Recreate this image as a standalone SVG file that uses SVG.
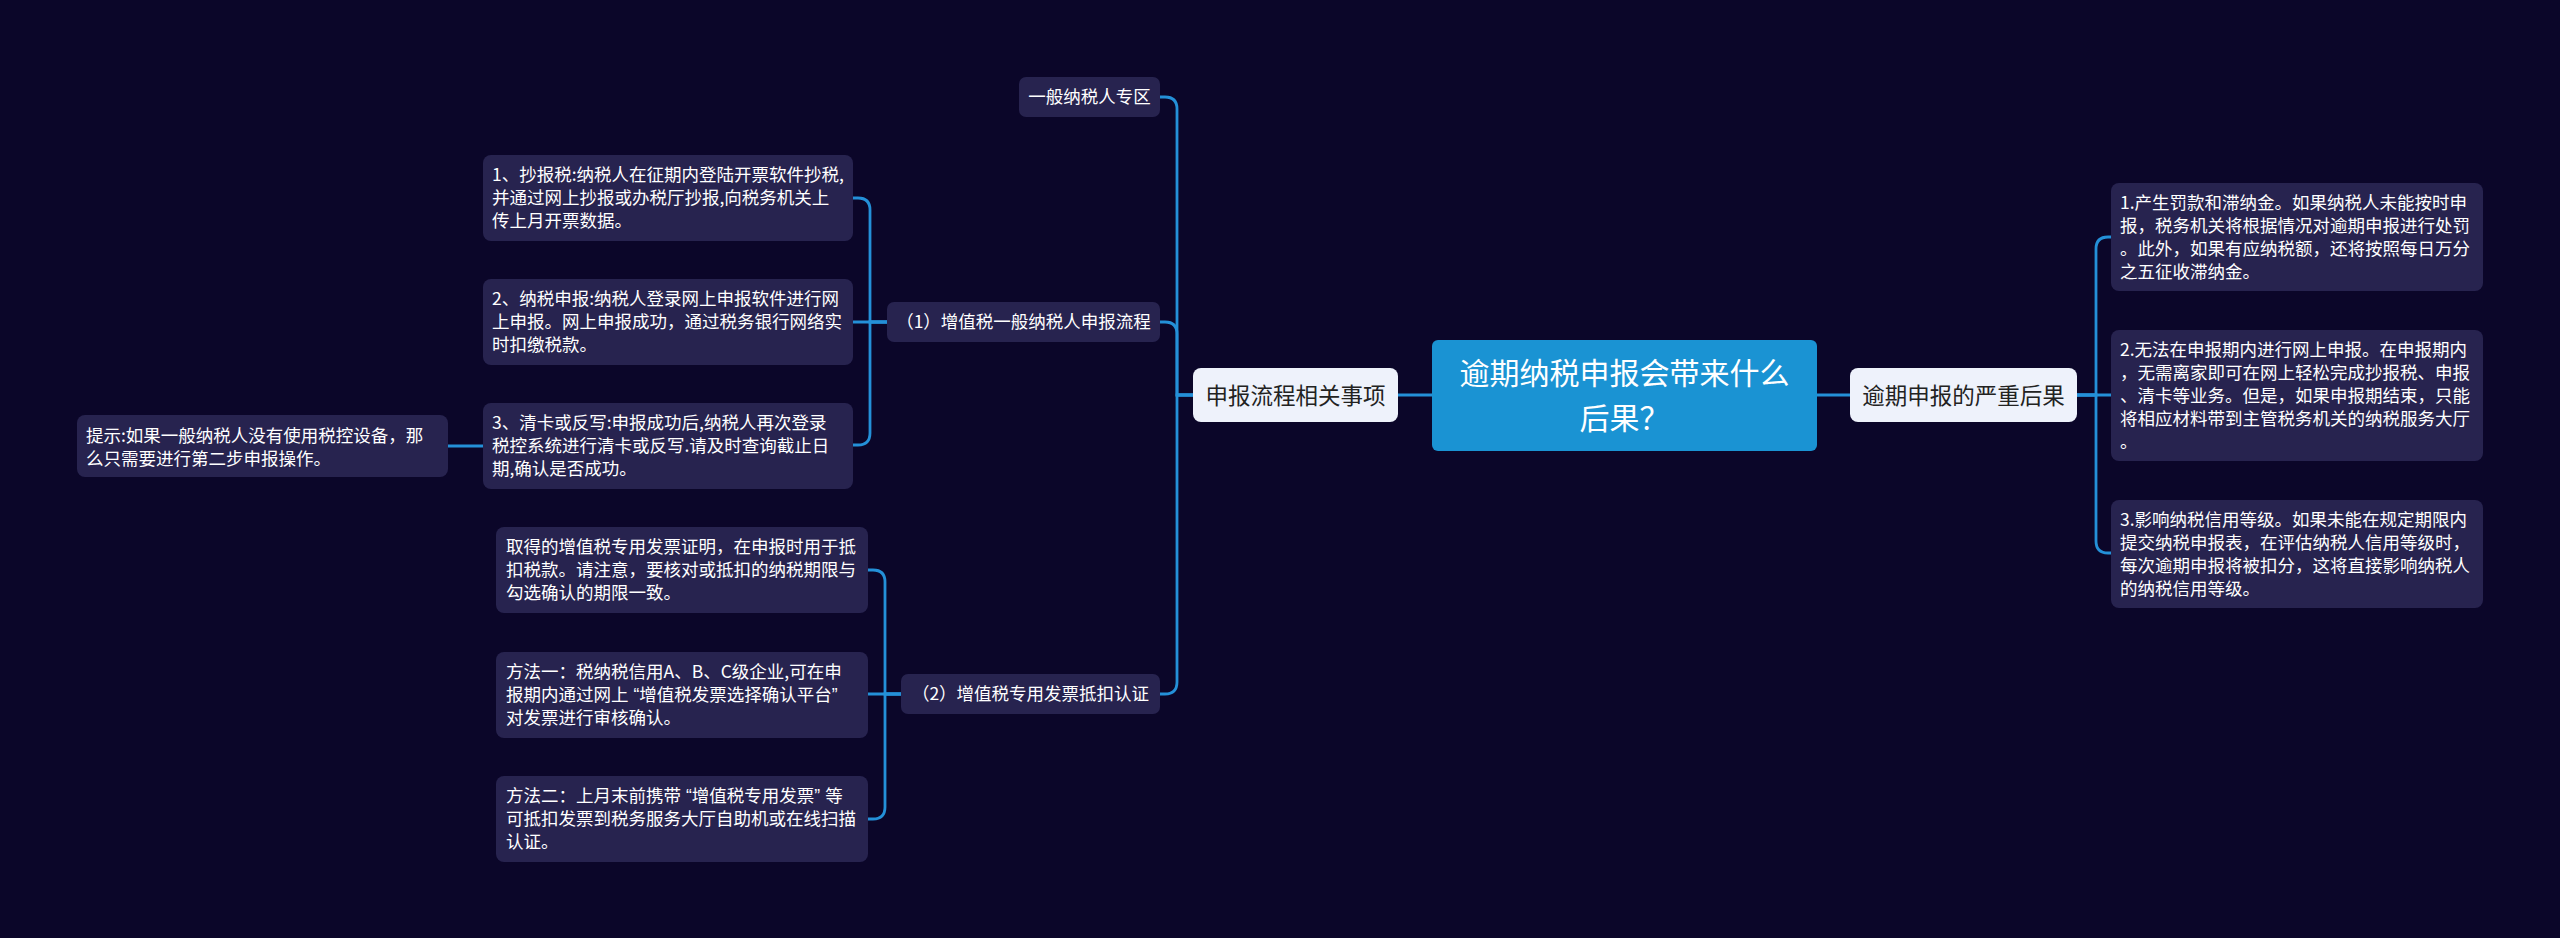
<svg xmlns="http://www.w3.org/2000/svg" width="2560" height="938" viewBox="0 0 2560 938">
<style>
.bg{fill:#0b0629}
.leaf{fill:#27234f}
.branch{fill:#eef2fb}
.root{fill:#1a93d3}
.t{font-family:"Noto Sans CJK SC","Noto Sans",sans-serif;font-size:17.5px;fill:#ffffff}
.tb{font-family:"Noto Sans CJK SC","Noto Sans",sans-serif;font-size:22.5px;fill:#222222}
.tr{font-family:"Noto Sans CJK SC","Noto Sans",sans-serif;font-size:30px;fill:#ffffff}
.q{font-family:"Liberation Sans","Noto Sans",sans-serif}
.qc{font-family:"Liberation Sans","Noto Sans",sans-serif;letter-spacing:5px}
.c{fill:none;stroke:#2490d8;stroke-width:2.8;stroke-linecap:round}
</style>
<rect class="bg" x="0" y="0" width="2560" height="938"/>
<g id="connectors">
<path class="c" d="M1432,395 H1398"/>
<path class="c" d="M1817,395 H1850"/>
<path class="c" d="M1193,395 H1177 V109 Q1177,97 1165,97 H1160"/>
<path class="c" d="M1193,395 H1177 V334 Q1177,322 1165,322 H1160"/>
<path class="c" d="M1193,395 H1177 V682 Q1177,694 1165,694 H1160"/>
<path class="c" d="M2077,395 H2096 V249 Q2096,237 2108,237 H2111"/>
<path class="c" d="M2077,395 H2111"/>
<path class="c" d="M2077,395 H2096 V541 Q2096,553 2108,553 H2111"/>
<path class="c" d="M887,322 H870 V210 Q870,198 858,198 H853"/>
<path class="c" d="M887,322 H853"/>
<path class="c" d="M887,322 H870 V433 Q870,445 858,445 H853"/>
<path class="c" d="M483,446 H448"/>
<path class="c" d="M901,694 H885 V582 Q885,570 873,570 H868"/>
<path class="c" d="M901,694 H868"/>
<path class="c" d="M901,694 H885 V807 Q885,819 873,819 H868"/>
</g>
<g id="root">
<rect class="root" x="1432" y="340" width="385" height="111" rx="6"/>
<text class="tr" x="1624.5" y="384" text-anchor="middle">逾期纳税申报会带来什么</text>
<text class="tr" x="1624.5" y="429" text-anchor="middle">后果？</text>
</g>
<g id="branch-left">
<rect class="branch" x="1193" y="368" width="205" height="54" rx="8"/>
<text class="tb" x="1295.5" y="403.5" text-anchor="middle">申报流程相关事项</text>
</g>
<g id="branch-right">
<rect class="branch" x="1850" y="368" width="227" height="54" rx="8"/>
<text class="tb" x="1963.5" y="403.5" text-anchor="middle">逾期申报的严重后果</text>
</g>
<g id="zone">
<rect class="leaf" x="1019" y="77" width="141" height="40" rx="7"/>
<text class="t" x="1089.5" y="103" text-anchor="middle">一般纳税人专区</text>
</g>
<g id="sub1">
<rect class="leaf" x="887" y="302" width="273" height="40" rx="7"/>
<text class="t" x="1023.5" y="328" text-anchor="middle">（1）增值税一般纳税人申报流程</text>
</g>
<g id="sub2">
<rect class="leaf" x="901" y="674" width="259" height="40" rx="7"/>
<text class="t" x="1030.5" y="700" text-anchor="middle">（2）增值税专用发票抵扣认证</text>
</g>
<g id="step1">
<rect class="leaf" x="483" y="155" width="370" height="86" rx="8"/>
<text class="t" x="492" y="181">1、抄报税:纳税人在征期内登陆开票软件抄税,</text>
<text class="t" x="492" y="204">并通过网上抄报或办税厅抄报,向税务机关上</text>
<text class="t" x="492" y="227">传上月开票数据。</text>
</g>
<g id="step2">
<rect class="leaf" x="483" y="279" width="370" height="86" rx="8"/>
<text class="t" x="492" y="305">2、纳税申报:纳税人登录网上申报软件进行网</text>
<text class="t" x="492" y="328">上申报。网上申报成功，通过税务银行网络实</text>
<text class="t" x="492" y="351">时扣缴税款。</text>
</g>
<g id="step3">
<rect class="leaf" x="483" y="403" width="370" height="86" rx="8"/>
<text class="t" x="492" y="429">3、清卡或反写:申报成功后,纳税人再次登录</text>
<text class="t" x="492" y="452">税控系统进行清卡或反写.请及时查询截止日</text>
<text class="t" x="492" y="475">期,确认是否成功。</text>
</g>
<g id="tip">
<rect class="leaf" x="77" y="415" width="371" height="62" rx="8"/>
<text class="t" x="86" y="442">提示:如果一般纳税人没有使用税控设备，那</text>
<text class="t" x="86" y="465">么只需要进行第二步申报操作。</text>
</g>
<g id="cert-a">
<rect class="leaf" x="496" y="527" width="372" height="86" rx="8"/>
<text class="t" x="506" y="553">取得的增值税专用发票证明，在申报时用于抵</text>
<text class="t" x="506" y="576">扣税款。请注意，要核对或抵扣的纳税期限与</text>
<text class="t" x="506" y="599">勾选确认的期限一致。</text>
</g>
<g id="cert-b">
<rect class="leaf" x="496" y="652" width="372" height="86" rx="8"/>
<text class="t" x="506" y="678">方法一：税纳税信用A、B、C级企业,可在申</text>
<text class="t" x="506" y="701">报期内通过网上<tspan class="q" dx="5">“</tspan>增值税发票选择确认平台<tspan class="qc">”</tspan></text>
<text class="t" x="506" y="724">对发票进行审核确认。</text>
</g>
<g id="cert-c">
<rect class="leaf" x="496" y="776" width="372" height="86" rx="8"/>
<text class="t" x="506" y="802">方法二：上月末前携带<tspan class="q" dx="5">“</tspan>增值税专用发票<tspan class="qc">”</tspan>等</text>
<text class="t" x="506" y="825">可抵扣发票到税务服务大厅自助机或在线扫描</text>
<text class="t" x="506" y="848">认证。</text>
</g>
<g id="result1">
<rect class="leaf" x="2111" y="183" width="372" height="108" rx="8"/>
<text class="t" x="2120" y="209">1.产生罚款和滞纳金。如果纳税人未能按时申</text>
<text class="t" x="2120" y="232">报，税务机关将根据情况对逾期申报进行处罚</text>
<text class="t" x="2120" y="255">。此外，如果有应纳税额，还将按照每日万分</text>
<text class="t" x="2120" y="278">之五征收滞纳金。</text>
</g>
<g id="result2">
<rect class="leaf" x="2111" y="330" width="372" height="131" rx="8"/>
<text class="t" x="2120" y="356">2.无法在申报期内进行网上申报。在申报期内</text>
<text class="t" x="2120" y="379">，无需离家即可在网上轻松完成抄报税、申报</text>
<text class="t" x="2120" y="402">、清卡等业务。但是，如果申报期结束，只能</text>
<text class="t" x="2120" y="425">将相应材料带到主管税务机关的纳税服务大厅</text>
<text class="t" x="2120" y="448">。</text>
</g>
<g id="result3">
<rect class="leaf" x="2111" y="500" width="372" height="108" rx="8"/>
<text class="t" x="2120" y="526">3.影响纳税信用等级。如果未能在规定期限内</text>
<text class="t" x="2120" y="549">提交纳税申报表，在评估纳税人信用等级时，</text>
<text class="t" x="2120" y="572">每次逾期申报将被扣分，这将直接影响纳税人</text>
<text class="t" x="2120" y="595">的纳税信用等级。</text>
</g>
</svg>
